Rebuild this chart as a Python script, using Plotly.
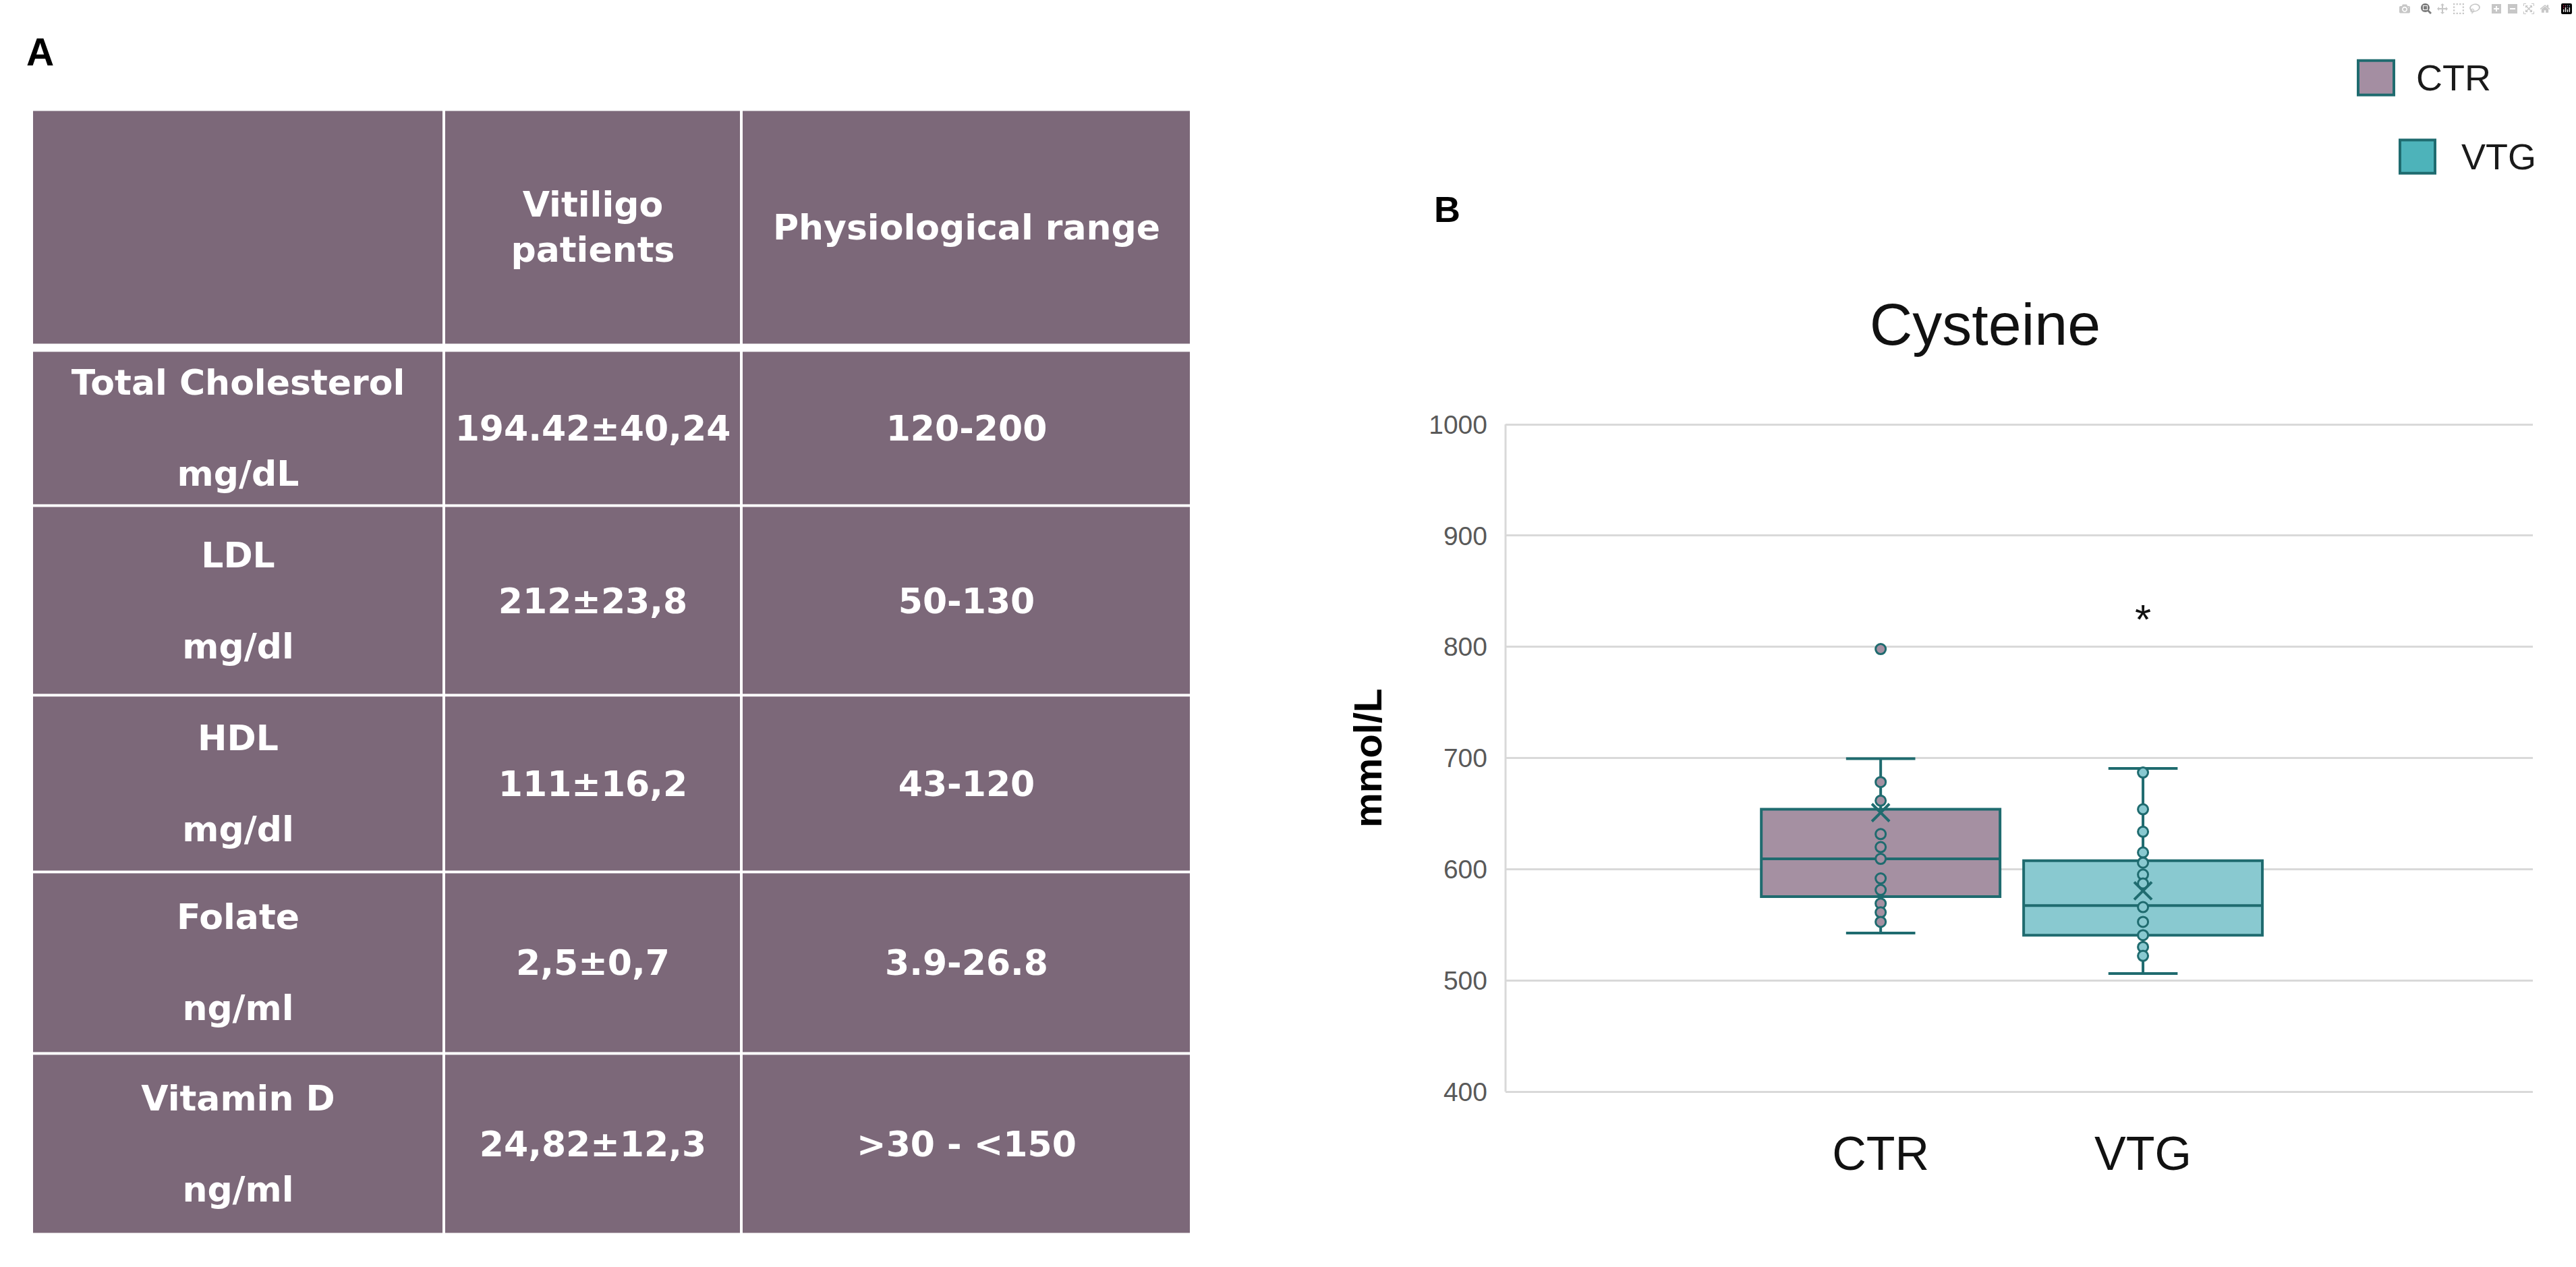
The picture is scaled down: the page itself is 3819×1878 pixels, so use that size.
import itertools
import plotly.graph_objects as go

W, H = 3819, 1878

# ---------------- Table data (panel A) ----------------
col_headers = ["", "Vitiligo<br>patients", "Physiological range"]
parameters = ["Total Cholesterol", "LDL", "HDL", "Folate", "Vitamin D"]
units = ["mg/dL", "mg/dl", "mg/dl", "ng/ml", "ng/ml"]
patients = ["194.42±40,24", "212±23,8", "111±16,2", "2,5±0,7", "24,82±12,3"]
ranges = ["120-200", "50-130", "43-120", "3.9-26.8", ">30 - <150"]

# ---------------- Box plot data (panel B) ----------------
groups = ["CTR", "VTG"]
q1 = [575.4, 540.8]
median = [609.4, 567.4]
q3 = [654.0, 607.8]
lower_whisker = [542.7, 506.3]
upper_whisker = [699.5, 690.7]
means = [651.0, 580.7]
ctr_points = [798.0, 678.5, 661.7, 631.7, 620.0, 609.4, 591.8, 581.5, 569.3, 561.3, 552.8]
vtg_points = [687.0, 654.0, 633.8, 615.2, 606.0, 595.3, 587.3, 566.0, 552.8, 540.8, 530.2, 522.2]
points = [ctr_points, vtg_points]
y_ticks = [400, 500, 600, 700, 800, 900, 1000]
signif_label = "*"
signif_y = 825

# ---------------- Styles ----------------
TABLE_FILL = "#7C6879"
BOX_FILLS = ["#A590A2", "#89C9D0"]
LEGEND_FILLS = ["#A48EA2", "#4DB3BA"]
TEAL = "#1F6B6F"
GRID = "#D9D9D9"
SANS = "Liberation Sans, Arial, sans-serif"
TABLE_FONT = dict(family="DejaVu Sans, Noto Sans, sans-serif", size=52, color="white", weight="bold")

# table geometry (pixel sizes of columns / rows; a thin empty row separates header and body)
col_widths_px = [611, 441, 667]
row_heights_px = [355, 8, 235, 286, 266, 274, 273]


def px(x):
    return x / W


def py(y):
    return 1 - y / H


col_edges = [0] + list(itertools.accumulate(col_widths_px))
row_edges = [0] + list(itertools.accumulate(row_heights_px))

table_text = [col_headers, ["", "", ""]]
table_z = [[1, 1, 1], [None, None, None]]
for p, u, v, r in zip(parameters, units, patients, ranges):
    table_text.append([f"{p}<br><br>{u}", v, r])
    table_z.append([1, 1, 1])

fig = go.Figure()

fig.add_trace(go.Heatmap(
    x=col_edges, y=row_edges, z=table_z, text=table_text, texttemplate="%{text}",
    textfont=TABLE_FONT, colorscale=[[0, TABLE_FILL], [1, TABLE_FILL]], zmin=0, zmax=1,
    showscale=False, xgap=4, ygap=4, hoverinfo="skip", xaxis="x2", yaxis="y2",
))

# boxes
for i, g in enumerate(groups):
    fig.add_trace(go.Box(
        name=g, x=[g], q1=[q1[i]], median=[median[i]], q3=[q3[i]],
        lowerfence=[lower_whisker[i]], upperfence=[upper_whisker[i]],
        width=0.91, whiskerwidth=0.29, fillcolor=BOX_FILLS[i],
        line=dict(color=TEAL, width=4), boxpoints=False, showlegend=False,
        xaxis="x", yaxis="y",
    ))
    fig.add_trace(go.Scatter(
        x=[g] * len(points[i]), y=points[i], mode="markers",
        marker=dict(symbol="circle", size=15, color=BOX_FILLS[i],
                    line=dict(color=TEAL, width=3)),
        showlegend=False, hoverinfo="y",
    ))
    fig.add_trace(go.Scatter(
        x=[g], y=[means[i]], mode="markers",
        marker=dict(symbol="x-thin", size=26, line=dict(color=TEAL, width=4)),
        showlegend=False, hoverinfo="y",
    ))

# significance star
fig.add_annotation(x=groups[1], y=signif_y, xref="x", yref="y", text=signif_label,
                   showarrow=False, font=dict(family=SANS, size=62, color="#111111"),
                   yanchor="middle")

# panel letters
fig.add_annotation(x=px(59), y=py(62), xref="paper", yref="paper", text="<b>A</b>",
                   showarrow=False, xanchor="center", yanchor="middle",
                   font=dict(family=SANS, size=57, color="black"))
fig.add_annotation(x=px(2145), y=py(299), xref="paper", yref="paper", text="<b>B</b>",
                   showarrow=False, xanchor="center", yanchor="middle",
                   font=dict(family=SANS, size=54, color="black"))

# legend
leg_boxes = [(3496, 3549, 75, 127), (3558, 3610, 195, 245)]
leg_text_x = [3580, 3647]
for i, g in enumerate(groups):
    x0, x1, y0, y1 = leg_boxes[i]
    fig.add_shape(type="rect", xref="paper", yref="paper",
                  x0=px(x0), x1=px(x1), y0=py(y1), y1=py(y0),
                  fillcolor=LEGEND_FILLS[i], line=dict(color=TEAL, width=4))
    fig.add_annotation(x=px(leg_text_x[i]), y=py((y0 + y1) / 2), xref="paper", yref="paper",
                       text=g, showarrow=False, xanchor="left", yanchor="middle",
                       font=dict(family=SANS, size=54, color="#1a1a1a"))

fig.update_layout(
    width=W, height=H, autosize=False,
    margin=dict(l=0, r=0, t=0, b=0),
    paper_bgcolor="white", plot_bgcolor="white",
    showlegend=False,
    title=dict(text="Cysteine", x=px(2943), y=py(472), xanchor="center", yanchor="middle",
               xref="paper", yref="paper",
               font=dict(family=SANS, size=88, color="#111111")),
    xaxis=dict(domain=[px(2232), px(3755)], type="category", categoryarray=groups,
               range=[-1.43, 2.486], showgrid=False, zeroline=False, showline=False,
               ticks="", tickfont=dict(family=SANS, size=70, color="#111111"),
               ticklabelstandoff=40),
    yaxis=dict(domain=[py(1636), py(619)], range=[397.0, 1003.0], tickvals=y_ticks,
               showgrid=True, gridcolor=GRID, gridwidth=3,
               showline=False, zeroline=False,
               ticks="", tickfont=dict(family=SANS, size=39, color="#595959"),
               ticklabelstandoff=26,
               title=dict(text="<b>mmol/L</b>", standoff=50,
                          font=dict(family=SANS, size=58, color="black"))),
    xaxis2=dict(domain=[px(47), px(1766)], range=[col_edges[0], col_edges[-1]],
                visible=False, fixedrange=True, anchor="y2"),
    yaxis2=dict(domain=[py(1846), py(149)], range=[row_edges[-1], row_edges[0]],
                visible=False, fixedrange=True, anchor="x2"),
)

# vertical axis line spanning only the tick range (400-1000), as in the reference
fig.add_shape(type="line", xref="x domain", yref="y", x0=0, x1=0, y0=y_ticks[0], y1=y_ticks[-1],
              line=dict(color=GRID, width=3))

fig.write_html("out.html", post_script="document.body.style.margin='0';")
